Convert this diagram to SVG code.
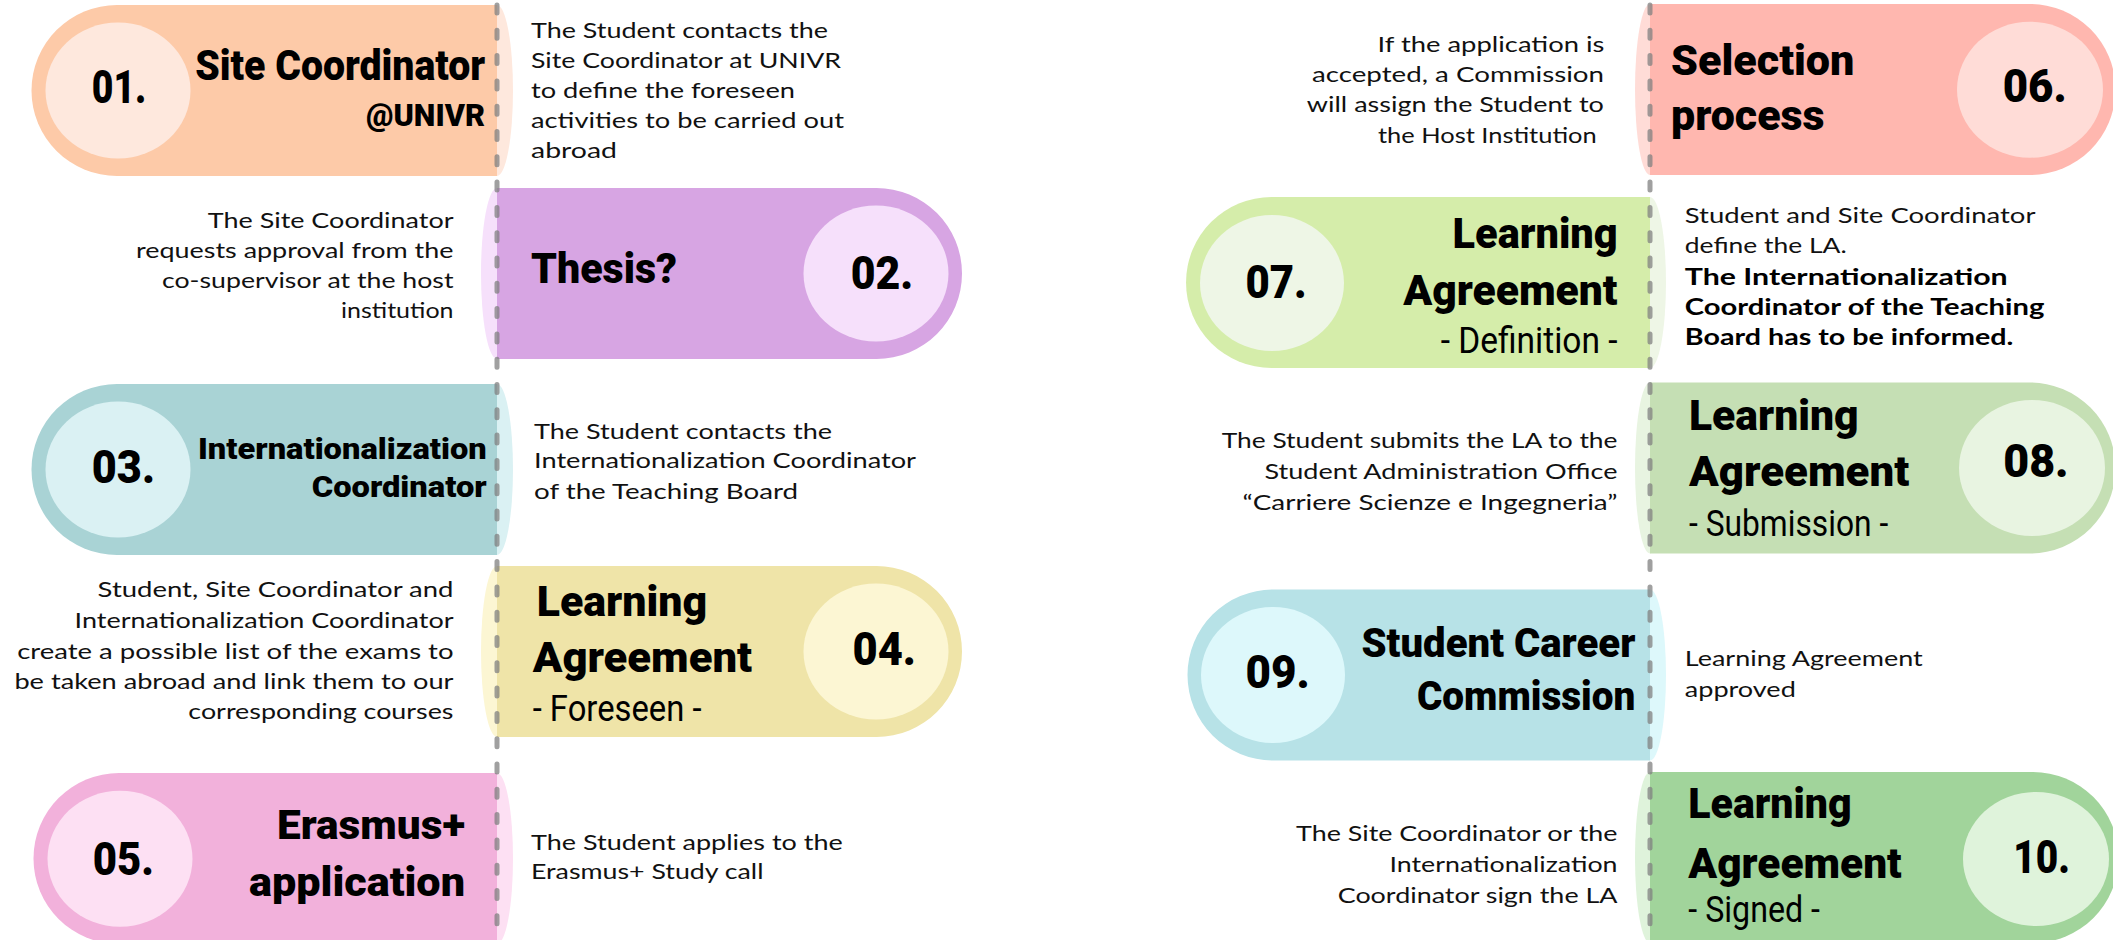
<svg xmlns="http://www.w3.org/2000/svg" width="2113" height="940" viewBox="0 0 2113 940">
<style>
.h{font-family:Roboto,"Liberation Sans",sans-serif;font-weight:900;fill:#000}
.n{font-family:Roboto,"Liberation Sans",sans-serif;font-weight:900;font-size:46px;fill:#000}
.s{font-family:Roboto,"Liberation Sans",sans-serif;font-weight:400;font-size:37px;fill:#000}
.t{font-family:Lato,"Liberation Sans",sans-serif;font-size:22px;fill:#111}
.tb{font-family:Lato,"Liberation Sans",sans-serif;font-size:22px;font-weight:700;fill:#000}
.dash{fill:none;stroke:#808080;stroke-opacity:0.75;stroke-width:5;stroke-linecap:round;stroke-dasharray:8 17.3}
</style>
<rect width="2113" height="940" fill="#fff"/>

<g id="node01">
<ellipse cx="497" cy="90.5" rx="16" ry="85.5" fill="#FEE8DD"/>
<path d="M497 5H117A85.5 85.5 0 0 0 117 176H497Z" fill="#FDCAA8"/>
<ellipse cx="118" cy="90.5" rx="72.5" ry="68" fill="#FEE8DD"/>
<text class="n" x="91.8" y="103.3" textLength="54.6" lengthAdjust="spacingAndGlyphs">01.</text>
<text class="h" font-size="42" x="195.2" y="80" textLength="290" lengthAdjust="spacingAndGlyphs">Site Coordinator</text>
<text class="h" font-size="32" x="366" y="126" textLength="119" lengthAdjust="spacingAndGlyphs">@UNIVR</text>
<text class="t" x="531" y="37.5" textLength="297" lengthAdjust="spacingAndGlyphs">The Student contacts the</text>
<text class="t" x="531" y="67.7" textLength="310" lengthAdjust="spacingAndGlyphs">Site Coordinator at UNIVR</text>
<text class="t" x="531" y="97.9" textLength="264" lengthAdjust="spacingAndGlyphs">to define the foreseen</text>
<text class="t" x="531" y="128.1" textLength="313" lengthAdjust="spacingAndGlyphs">activities to be carried out</text>
<text class="t" x="531" y="158.3" textLength="86" lengthAdjust="spacingAndGlyphs">abroad</text>
</g>

<g id="node02">
<ellipse cx="497" cy="273.5" rx="16" ry="85.5" fill="#F6E0FB"/>
<path d="M497 188H876.5A85.5 85.5 0 0 1 876.5 359H497Z" fill="#D7A5E3"/>
<ellipse cx="876" cy="273.5" rx="72.5" ry="68" fill="#F6E0FB"/>
<text class="n" x="850.7" y="289" textLength="62.6" lengthAdjust="spacingAndGlyphs">02.</text>
<text class="h" font-size="42" x="531" y="283.3" textLength="146" lengthAdjust="spacingAndGlyphs">Thesis?</text>
<text class="t" x="207.8" y="228.3" textLength="245.7" lengthAdjust="spacingAndGlyphs">The Site Coordinator</text>
<text class="t" x="136" y="258.3" textLength="317.5" lengthAdjust="spacingAndGlyphs">requests approval from the</text>
<text class="t" x="162" y="288" textLength="291.5" lengthAdjust="spacingAndGlyphs">co-supervisor at the host</text>
<text class="t" x="341" y="318" textLength="112.5" lengthAdjust="spacingAndGlyphs">institution</text>
</g>

<g id="node03">
<ellipse cx="497" cy="469.5" rx="16" ry="85.5" fill="#DAF1F3"/>
<path d="M497 384H117A85.5 85.5 0 0 0 117 555H497Z" fill="#A9D3D5"/>
<ellipse cx="118" cy="469.5" rx="72.5" ry="68" fill="#DAF1F3"/>
<text class="n" x="91.8" y="482.7" textLength="63.2" lengthAdjust="spacingAndGlyphs">03.</text>
<text class="h" font-size="30" x="198" y="459" textLength="288.8" lengthAdjust="spacingAndGlyphs">Internationalization</text>
<text class="h" font-size="30" x="311.7" y="497.3" textLength="175" lengthAdjust="spacingAndGlyphs">Coordinator</text>
<text class="t" x="534" y="439" textLength="298" lengthAdjust="spacingAndGlyphs">The Student contacts the</text>
<text class="t" x="534" y="468.2" textLength="382" lengthAdjust="spacingAndGlyphs">Internationalization Coordinator</text>
<text class="t" x="534" y="499" textLength="264" lengthAdjust="spacingAndGlyphs">of the Teaching Board</text>
</g>

<g id="node04">
<ellipse cx="497" cy="651.5" rx="16" ry="85.5" fill="#FCF6D3"/>
<path d="M497 566H876.5A85.5 85.5 0 0 1 876.5 737H497Z" fill="#EFE4A8"/>
<ellipse cx="876" cy="651.5" rx="72.5" ry="68" fill="#FCF6D3"/>
<text class="n" x="852.5" y="664.5" textLength="63.5" lengthAdjust="spacingAndGlyphs">04.</text>
<text class="h" font-size="42" x="536.7" y="615.5" textLength="170.5" lengthAdjust="spacingAndGlyphs">Learning</text>
<text class="h" font-size="42" x="532.7" y="671.8" textLength="219.3" lengthAdjust="spacingAndGlyphs">Agreement</text>
<text class="s" x="532.7" y="721" textLength="168.8" lengthAdjust="spacingAndGlyphs">- Foreseen -</text>
<text class="t" x="97.6" y="597.3" textLength="355.9" lengthAdjust="spacingAndGlyphs">Student, Site Coordinator and</text>
<text class="t" x="74.6" y="628.2" textLength="378.9" lengthAdjust="spacingAndGlyphs">Internationalization Coordinator</text>
<text class="t" x="17.2" y="659" textLength="436.3" lengthAdjust="spacingAndGlyphs">create a possible list of the exams to</text>
<text class="t" x="14.4" y="689.3" textLength="439.1" lengthAdjust="spacingAndGlyphs">be taken abroad and link them to our</text>
<text class="t" x="188.3" y="719" textLength="265.2" lengthAdjust="spacingAndGlyphs">corresponding courses</text>
</g>

<g id="node05">
<ellipse cx="497" cy="858.5" rx="16" ry="85.5" fill="#FDE0F3"/>
<path d="M497 773H119A85.5 85.5 0 0 0 119 944H497Z" fill="#F2B1DB"/>
<ellipse cx="120" cy="858.7" rx="72.5" ry="68" fill="#FDE0F3"/>
<text class="n" x="92.7" y="875" textLength="61.3" lengthAdjust="spacingAndGlyphs">05.</text>
<text class="h" font-size="40" x="277" y="839" textLength="188" lengthAdjust="spacingAndGlyphs">Erasmus+</text>
<text class="h" font-size="40" x="249" y="896" textLength="216" lengthAdjust="spacingAndGlyphs">application</text>
<text class="t" x="531" y="850" textLength="311.7" lengthAdjust="spacingAndGlyphs">The Student applies to the</text>
<text class="t" x="531" y="879" textLength="232.5" lengthAdjust="spacingAndGlyphs">Erasmus+ Study call</text>
</g>

<g id="node06">
<ellipse cx="1650" cy="89.5" rx="15" ry="85.5" fill="#FFDCD7"/>
<path d="M1650 4H2030A85.5 85.5 0 0 1 2030 175H1650Z" fill="#FFB7AF"/>
<ellipse cx="2030" cy="89.7" rx="73" ry="68" fill="#FFDCD7"/>
<text class="n" x="2002.7" y="101.7" textLength="64" lengthAdjust="spacingAndGlyphs">06.</text>
<text class="h" font-size="42" x="1671" y="75" textLength="183.4" lengthAdjust="spacingAndGlyphs">Selection</text>
<text class="h" font-size="42" x="1671" y="130" textLength="153.6" lengthAdjust="spacingAndGlyphs">process</text>
<text class="t" x="1377.6" y="51.7" textLength="226.8" lengthAdjust="spacingAndGlyphs">If the application is</text>
<text class="t" x="1312" y="81.7" textLength="292" lengthAdjust="spacingAndGlyphs">accepted, a Commission</text>
<text class="t" x="1306.8" y="111.7" textLength="297" lengthAdjust="spacingAndGlyphs">will assign the Student to</text>
<text class="t" x="1378" y="142.7" textLength="218.7" lengthAdjust="spacingAndGlyphs">the Host Institution</text>
</g>

<g id="node07">
<ellipse cx="1650" cy="282.5" rx="16" ry="85.5" fill="#EEF6E6"/>
<path d="M1650 197H1271.5A85.5 85.5 0 0 0 1271.5 368H1650Z" fill="#D5EDAA"/>
<ellipse cx="1272" cy="283" rx="72" ry="68" fill="#EEF6E6"/>
<text class="n" x="1245.5" y="298.3" textLength="61.3" lengthAdjust="spacingAndGlyphs">07.</text>
<text class="h" font-size="42" x="1452.6" y="248.3" textLength="165" lengthAdjust="spacingAndGlyphs">Learning</text>
<text class="h" font-size="42" x="1403.2" y="305" textLength="214.3" lengthAdjust="spacingAndGlyphs">Agreement</text>
<text class="s" x="1440.7" y="353.3" textLength="176.8" lengthAdjust="spacingAndGlyphs">- Definition -</text>
<text class="t" x="1684.8" y="223.3" textLength="350.6" lengthAdjust="spacingAndGlyphs">Student and Site Coordinator</text>
<text class="t" x="1684.8" y="253.3" textLength="161.9" lengthAdjust="spacingAndGlyphs">define the LA.</text>
<text class="tb" x="1684.8" y="285" textLength="322.9" lengthAdjust="spacingAndGlyphs">The Internationalization</text>
<text class="tb" x="1684.8" y="315" textLength="359.5" lengthAdjust="spacingAndGlyphs">Coordinator of the Teaching</text>
<text class="tb" x="1684.8" y="345" textLength="328.5" lengthAdjust="spacingAndGlyphs">Board has to be informed.</text>
</g>

<g id="node08">
<ellipse cx="1650" cy="468" rx="15" ry="85.5" fill="#E8F4E1"/>
<path d="M1650 382.5H2030A85.5 85.5 0 0 1 2030 553.5H1650Z" fill="#C5DFB4"/>
<ellipse cx="2032" cy="468" rx="73" ry="68" fill="#E8F4E1"/>
<text class="n" x="2003.2" y="477.3" textLength="65.5" lengthAdjust="spacingAndGlyphs">08.</text>
<text class="h" font-size="42" x="1689" y="430" textLength="169.6" lengthAdjust="spacingAndGlyphs">Learning</text>
<text class="h" font-size="42" x="1689" y="486.4" textLength="220.2" lengthAdjust="spacingAndGlyphs">Agreement</text>
<text class="s" x="1689" y="535.5" textLength="199.3" lengthAdjust="spacingAndGlyphs">- Submission -</text>
<text class="t" x="1221.7" y="448.2" textLength="395.8" lengthAdjust="spacingAndGlyphs">The Student submits the LA to the</text>
<text class="t" x="1264.5" y="479" textLength="353" lengthAdjust="spacingAndGlyphs">Student Administration Office</text>
<text class="t" x="1242.5" y="510" textLength="375" lengthAdjust="spacingAndGlyphs">“Carriere Scienze e Ingegneria”</text>
</g>

<g id="node09">
<ellipse cx="1650" cy="675" rx="16" ry="85.5" fill="#DDF8FB"/>
<path d="M1650 589.5H1273A85.5 85.5 0 0 0 1273 760.5H1650Z" fill="#B7E2E7"/>
<ellipse cx="1273" cy="675" rx="72" ry="68" fill="#DDF8FB"/>
<text class="n" x="1245.5" y="688.2" textLength="64.3" lengthAdjust="spacingAndGlyphs">09.</text>
<text class="h" font-size="41" x="1361.5" y="657.3" textLength="273.9" lengthAdjust="spacingAndGlyphs">Student Career</text>
<text class="h" font-size="41" x="1416.9" y="710" textLength="218.5" lengthAdjust="spacingAndGlyphs">Commission</text>
<text class="t" x="1684.8" y="666.4" textLength="238" lengthAdjust="spacingAndGlyphs">Learning Agreement</text>
<text class="t" x="1684.8" y="697.3" textLength="111" lengthAdjust="spacingAndGlyphs">approved</text>
</g>

<g id="node10">
<ellipse cx="1650" cy="857.5" rx="15" ry="85.5" fill="#DFF3DB"/>
<path d="M1650 772H2033A85.5 85.5 0 0 1 2033 943H1650Z" fill="#A1D49B"/>
<ellipse cx="2036" cy="859" rx="73" ry="67" fill="#DFF3DB"/>
<text class="n" x="2013.3" y="873.3" textLength="56.7" lengthAdjust="spacingAndGlyphs">10.</text>
<text class="h" font-size="42" x="1688.3" y="818.3" textLength="163.4" lengthAdjust="spacingAndGlyphs">Learning</text>
<text class="h" font-size="42" x="1688.3" y="878.3" textLength="213.4" lengthAdjust="spacingAndGlyphs">Agreement</text>
<text class="s" x="1688.3" y="921.7" textLength="131.7" lengthAdjust="spacingAndGlyphs">- Signed -</text>
<text class="t" x="1296" y="841" textLength="321.5" lengthAdjust="spacingAndGlyphs">The Site Coordinator or the</text>
<text class="t" x="1389.5" y="871.8" textLength="228" lengthAdjust="spacingAndGlyphs">Internationalization</text>
<text class="t" x="1337.7" y="902.7" textLength="279.8" lengthAdjust="spacingAndGlyphs">Coordinator sign the LA</text>
</g>

<g id="connectors">
<line class="dash" x1="497" y1="5" x2="497" y2="940"/>
<line class="dash" x1="1650" y1="5" x2="1650" y2="940"/>
</g>
</svg>
